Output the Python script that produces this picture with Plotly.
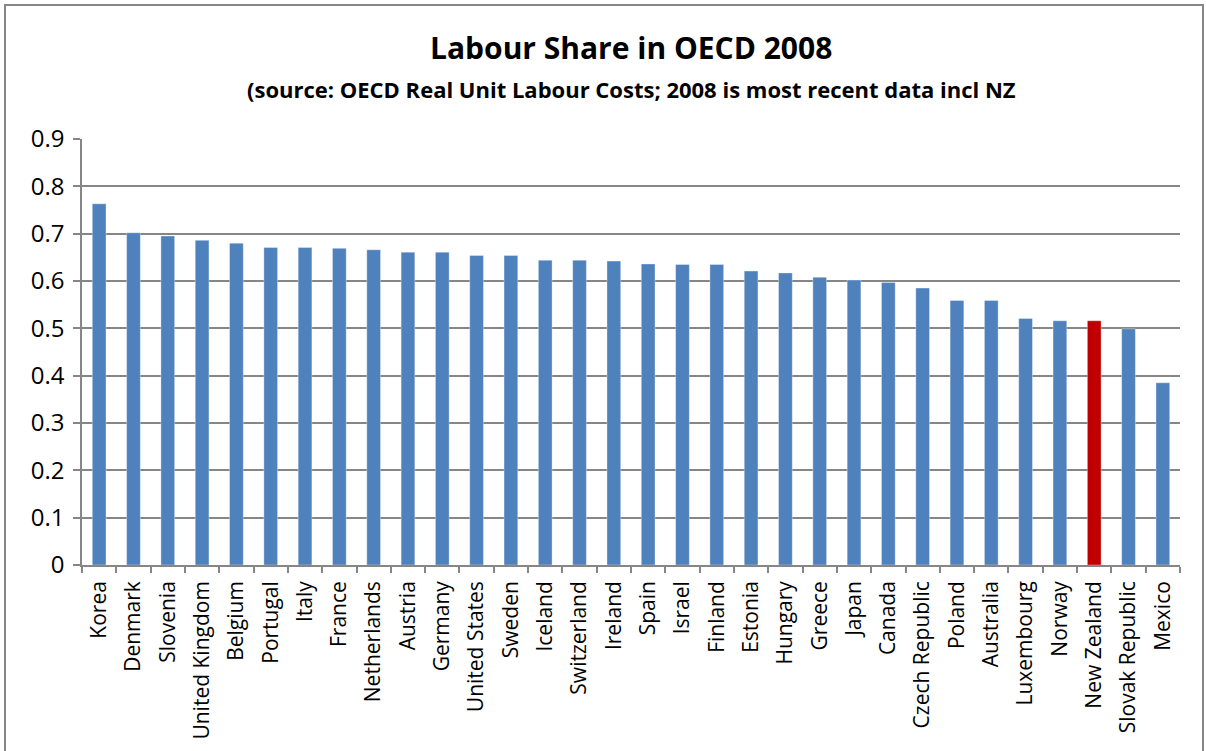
import plotly.graph_objects as go

countries = ["Korea", "Denmark", "Slovenia", "United Kingdom", "Belgium", "Portugal", "Italy",
             "France", "Netherlands", "Austria", "Germany", "United States", "Sweden", "Iceland",
             "Switzerland", "Ireland", "Spain", "Israel", "Finland", "Estonia", "Hungary", "Greece",
             "Japan", "Canada", "Czech Republic", "Poland", "Australia", "Luxembourg", "Norway",
             "New Zealand", "Slovak Republic", "Mexico"]
labour_share = [0.763, 0.702, 0.695, 0.686, 0.680, 0.671, 0.671, 0.669, 0.666, 0.661, 0.661,
                0.654, 0.654, 0.644, 0.644, 0.642, 0.636, 0.635, 0.635, 0.621, 0.617, 0.608,
                0.602, 0.597, 0.585, 0.559, 0.559, 0.521, 0.516, 0.516, 0.499, 0.385]
highlight = "New Zealand"
y_ticks = [0, 0.1, 0.2, 0.3, 0.4, 0.5, 0.6, 0.7, 0.8, 0.9]
y_tick_labels = ["0", "0.1", "0.2", "0.3", "0.4", "0.5", "0.6", "0.7", "0.8", "0.9"]

colors = ["#C00000" if c == highlight else "#4F81BD" for c in countries]

fig = go.Figure(go.Bar(
    x=countries, y=labour_share,
    marker=dict(color=colors, line=dict(color="rgba(255,255,255,0.35)", width=1)),
))

W, H = 1206, 751
L, R, T, B = 82, 26, 139, 186
pw, ph = W - L - R, H - T - B

def px(x):
    return (x - L) / pw

def py(y):
    return (H - B - y) / ph

grid = "#868686"
fig.update_layout(
    width=W, height=H,
    margin=dict(l=L, r=R, t=T, b=B),
    paper_bgcolor="white", plot_bgcolor="white",
    bargap=0.6,
    showlegend=False,
    font=dict(family="Open Sans", color="black"),
    xaxis=dict(
        type="category", tickangle=-90, tickfont=dict(size=21, family="Open Sans"),
        showline=True, linecolor=grid, linewidth=1.5,
        ticks="outside", ticklen=6, tickcolor=grid, tickwidth=1.5,
        tickson="boundaries", showgrid=False, mirror=False,
        ticklabelstandoff=6,
    ),
    yaxis=dict(
        range=[0, 0.9], tickvals=y_ticks, ticktext=y_tick_labels,
        tickfont=dict(size=24, family="Open Sans"),
        showline=True, linecolor=grid, linewidth=1.5,
        ticks="outside", ticklen=7, tickcolor=grid, tickwidth=1.5,
        showgrid=True, gridcolor=grid, gridwidth=1.5,
        zeroline=False, ticklabelstandoff=4,
    ),
    annotations=[
        dict(text="<b>Labour Share in OECD 2008</b>", x=0.5, xref="paper",
             y=py(47), yref="paper", showarrow=False, xanchor="center", yanchor="middle",
             font=dict(size=30, family="Open Sans")),
        dict(text="<b>(source: OECD Real Unit Labour Costs; 2008 is most recent data incl NZ</b>",
             x=0.5, xref="paper", y=py(89), yref="paper", showarrow=False,
             xanchor="center", yanchor="middle", font=dict(size=22, family="Open Sans")),
    ],
    shapes=[
        dict(type="rect", xref="paper", yref="paper", x0=px(5), x1=px(1203), y0=py(5), y1=py(780),
             line=dict(color="#868686", width=2), fillcolor="rgba(0,0,0,0)", layer="below"),
    ],
)

fig.write_html("out.html")
